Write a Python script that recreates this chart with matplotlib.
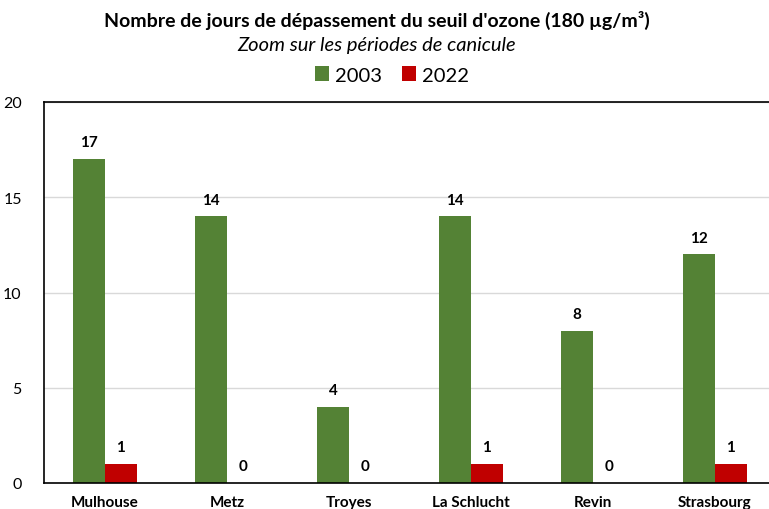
import matplotlib.pyplot as plt
import numpy as np

stations = ["Mulhouse", "Metz", "Troyes", "La Schlucht", "Revin", "Strasbourg"]
jours_2003 = [17, 14, 4, 14, 8, 12]
jours_2022 = [1, 0, 0, 1, 0, 1]

plt.rcParams['font.family'] = ['Lato', 'DejaVu Sans']

vert = "#548235"
rouge = "#C00000"

fig = plt.figure(figsize=(7.69, 5.10), dpi=100)
ax = fig.add_axes([44/769, 1-484/510, 732/769, 381/510])

x = np.arange(len(stations))
w = 0.26
b1 = ax.bar(x - w/2, jours_2003, w, color=vert, label="2003")
b2 = ax.bar(x + w/2, jours_2022, w, color=rouge, label="2022")

for bars in (b1, b2):
    for r in bars:
        ax.annotate(str(int(r.get_height())), (r.get_x() + r.get_width()/2, r.get_height()),
                    xytext=(0, 7), textcoords="offset points", ha="center", va="bottom",
                    fontsize=11, fontweight="bold")

ax.set_xlim(-0.5, 5.5)
ax.set_ylim(0, 20)
ax.set_yticks([0, 5, 10, 15, 20])
ax.yaxis.grid(True, color="#d9d9d9", linewidth=1)
ax.set_axisbelow(True)
ax.tick_params(axis="y", length=0, labelsize=11.5, pad=16)
ax.tick_params(axis="x", length=0, pad=9)
ax.set_xticks(x)
ax.set_xticklabels(stations, fontsize=11, fontweight="bold")
for s in ("top", "left", "bottom"):
    ax.spines[s].set_color("black")
    ax.spines[s].set_linewidth(1.2)
ax.spines["right"].set_visible(False)

fig.text(0.49, 1-20/510, "Nombre de jours de dépassement du seuil d'ozone (180 µg/m³)",
         ha="center", va="center", fontsize=14, fontweight="bold")
fig.text(0.49, 1-46/510, "Zoom sur les périodes de canicule",
         ha="center", va="center", fontsize=14.5, style="italic")
fig.legend(handles=[b1, b2], loc="center", bbox_to_anchor=(0.51, 1-76/510), ncol=2,
           frameon=False, fontsize=14.5, handlelength=0.7, handleheight=0.7,
           handletextpad=0.3, columnspacing=1.0)

fig.savefig("out.png", dpi=100)
